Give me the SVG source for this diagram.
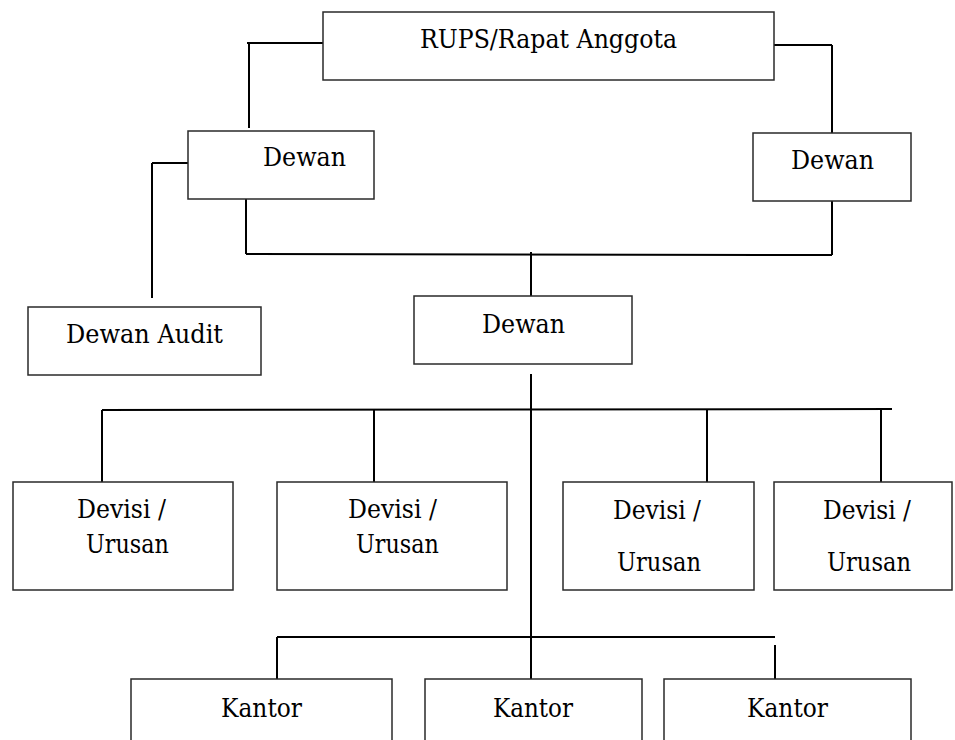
<svg xmlns="http://www.w3.org/2000/svg" width="955" height="740" viewBox="0 0 955 740">
<style>
.box{fill:#fff;stroke:#2a2a2a;stroke-width:1.5}
.t{font-family:'DejaVu Serif','Liberation Serif',serif;font-size:26.5px;fill:#000}
#connectors line{stroke:#000;stroke-width:2;fill:none}
</style>
<rect width="955" height="740" fill="#fff"/>
<g id="connectors">
<line x1="247" y1="43" x2="323" y2="43"/>
<line x1="249" y1="43" x2="249" y2="128"/>
<line x1="774" y1="45" x2="832" y2="45"/>
<line x1="832" y1="45" x2="832" y2="149"/>
<line x1="152" y1="163" x2="188" y2="163"/>
<line x1="152" y1="163" x2="152" y2="298"/>
<line x1="246" y1="196" x2="246" y2="254"/>
<line x1="832" y1="201" x2="832" y2="255"/>
<line x1="246" y1="254" x2="832" y2="255"/>
<line x1="531" y1="252" x2="531" y2="298"/>
<line x1="531" y1="374" x2="531" y2="679"/>
<line x1="102" y1="410" x2="892" y2="409"/>
<line x1="102" y1="410" x2="102" y2="482"/>
<line x1="374" y1="409" x2="374" y2="482"/>
<line x1="707" y1="410" x2="707" y2="484"/>
<line x1="881" y1="409" x2="881" y2="482"/>
<line x1="277" y1="637" x2="775" y2="637"/>
<line x1="277" y1="637" x2="277" y2="679"/>
<line x1="775" y1="645" x2="775" y2="679"/>
</g>
<g id="rups"><rect class="box" x="323" y="12" width="451" height="68"/><text class="t" x="420" y="48" textLength="257" lengthAdjust="spacingAndGlyphs">RUPS/Rapat Anggota</text></g>
<g id="dewan-left"><rect class="box" x="188" y="131" width="186" height="68"/><text class="t" x="263" y="166" textLength="83" lengthAdjust="spacingAndGlyphs">Dewan</text></g>
<g id="dewan-right"><rect class="box" x="753" y="133" width="158" height="68"/><text class="t" x="791" y="169" textLength="83" lengthAdjust="spacingAndGlyphs">Dewan</text></g>
<g id="dewan-audit"><rect class="box" x="28" y="307" width="233" height="68"/><text class="t" x="66" y="343" textLength="157" lengthAdjust="spacingAndGlyphs">Dewan Audit</text></g>
<g id="dewan-center"><rect class="box" x="414" y="296" width="218" height="68"/><text class="t" x="482" y="333" textLength="83" lengthAdjust="spacingAndGlyphs">Dewan</text></g>
<g id="devisi1"><rect class="box" x="13" y="482" width="220" height="108"/><text class="t" x="77" y="518" textLength="89" lengthAdjust="spacingAndGlyphs">Devisi /</text><text class="t" x="86" y="553" textLength="83" lengthAdjust="spacingAndGlyphs">Urusan</text></g>
<g id="devisi2"><rect class="box" x="277" y="482" width="230" height="108"/><text class="t" x="348" y="518" textLength="89" lengthAdjust="spacingAndGlyphs">Devisi /</text><text class="t" x="356" y="553" textLength="83" lengthAdjust="spacingAndGlyphs">Urusan</text></g>
<g id="devisi3"><rect class="box" x="563" y="482" width="191" height="108"/><text class="t" x="613" y="519" textLength="88" lengthAdjust="spacingAndGlyphs">Devisi /</text><text class="t" x="617" y="571" textLength="84" lengthAdjust="spacingAndGlyphs">Urusan</text></g>
<g id="devisi4"><rect class="box" x="774" y="482" width="178" height="108"/><text class="t" x="823" y="519" textLength="88" lengthAdjust="spacingAndGlyphs">Devisi /</text><text class="t" x="827" y="571" textLength="84" lengthAdjust="spacingAndGlyphs">Urusan</text></g>
<g id="kantor1"><rect class="box" x="131" y="679" width="261" height="80"/><text class="t" x="221" y="717" textLength="81" lengthAdjust="spacingAndGlyphs">Kantor</text></g>
<g id="kantor2"><rect class="box" x="425" y="679" width="217" height="80"/><text class="t" x="493" y="717" textLength="80" lengthAdjust="spacingAndGlyphs">Kantor</text></g>
<g id="kantor3"><rect class="box" x="664" y="679" width="247" height="80"/><text class="t" x="747" y="717" textLength="81" lengthAdjust="spacingAndGlyphs">Kantor</text></g>
</svg>
